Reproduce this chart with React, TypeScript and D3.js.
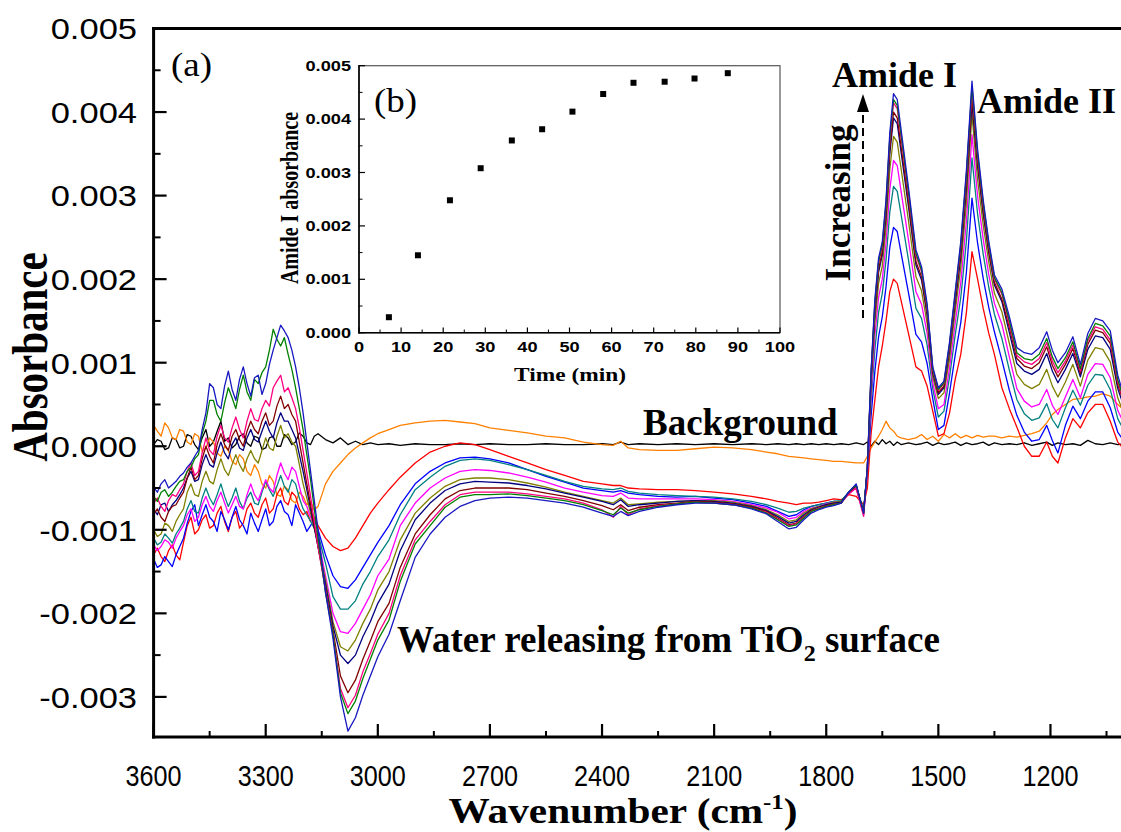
import React from "react";
import * as d3 from "d3";

// ---------- main spectra (absorbance values in units of 1e-3) ----------
const wavenumber = [
  3600, 3590, 3580, 3570, 3560, 3550, 3540, 3530, 3520, 3510, 3500, 3490, 3480, 3470, 3460, 3450, 3440, 3430, 3420, 3410, 3400, 3390, 3380, 3370, 3360, 3350, 3340, 3330, 3320, 3310, 3300, 3290, 3280, 3270, 3260, 3250, 3240, 3230, 3220, 3210, 3200, 3190, 3180, 3170, 3160,
  3140, 3120, 3100, 3080, 3060, 3040, 3020, 3000, 2970, 2940, 2900, 2860, 2820, 2780, 2740, 2700, 2650, 2600, 2550, 2500, 2450, 2400, 2370, 2350, 2330, 2300, 2250, 2200, 2150, 2100, 2050, 2000, 1960, 1930, 1900, 1880, 1860, 1840, 1820, 1800, 1780,
  1760, 1740, 1720, 1700, 1690, 1680, 1670, 1660, 1650, 1640, 1630, 1620, 1610, 1600, 1580, 1560, 1545, 1530, 1515, 1500, 1485, 1470, 1455, 1440, 1425, 1410, 1395, 1380, 1365, 1350, 1330, 1310, 1290, 1270, 1250, 1230, 1210, 1195, 1180, 1160, 1140, 1120, 1100, 1080, 1060, 1040, 1020, 1000,
];

const spec01Red = [
  -1.3, -1.22, -1.32, -1.38, -1.25, -1.18, -1.3, -1.36, -1.15, -0.95, -0.85, -1.05, -1.0, -0.88, -0.82, -0.98, -0.95, -0.8, -0.72, -0.9, -1.02, -0.85, -0.78, -0.98, -0.92, -0.75, -0.68, -0.8, -0.85, -0.7, -0.62, -0.8, -0.75, -0.58, -0.5, -0.66, -0.7, -0.55, -0.6, -0.75, -0.82, -0.78, -0.9, -0.85, -0.95,
  -1.1, -1.2, -1.25, -1.22, -1.1, -0.95, -0.8, -0.68, -0.52, -0.37, -0.2, -0.07, 0.0, 0.04, 0.02, -0.04, -0.12, -0.2, -0.28, -0.35, -0.42, -0.45, -0.47, -0.47, -0.5, -0.51, -0.52, -0.52, -0.53, -0.55, -0.57, -0.6, -0.63, -0.66, -0.68, -0.7, -0.68, -0.68, -0.67, -0.65, -0.63,
  -0.64, -0.58, -0.6, -0.7, -0.5, 0.15, 0.55, 0.95, 1.2, 1.5, 1.85, 2.0, 1.95, 1.75, 1.35, 0.95, 0.9, 0.72, 0.42, 0.12, 0.15, 0.4, 0.8, 1.1, 1.6, 2.33, 2.0, 1.65, 1.35, 1.1, 0.7, 0.45, 0.23, 0.0, -0.12, -0.12, 0.05, -0.12, -0.2, 0.1, 0.33, 0.22, 0.4, 0.5, 0.5, 0.3, 0.05, -0.05,
];
const spec02Blue = [
  -1.35, -1.45, -1.42, -1.32, -1.38, -1.44, -1.3, -1.2, -1.1, -0.92, -0.78, -0.7, -0.95, -0.82, -0.7, -0.85, -0.9, -1.02, -0.78, -0.88, -1.0, -0.85, -0.72, -0.88, -0.95, -1.05, -0.8, -0.92, -1.02, -0.88, -0.75, -0.95, -0.9, -0.72, -0.65, -0.78, -0.82, -0.95, -0.7, -0.8, -0.9, -1.02, -0.95, -0.88, -1.0,
  -1.3, -1.55, -1.68, -1.7, -1.6, -1.45, -1.3, -1.15, -0.95, -0.7, -0.45, -0.3, -0.2, -0.14, -0.13, -0.15, -0.2, -0.28, -0.36, -0.43, -0.5, -0.53, -0.55, -0.53, -0.56, -0.58, -0.6, -0.61, -0.6, -0.62, -0.64, -0.68, -0.72, -0.78, -0.84, -0.82, -0.76, -0.72, -0.7, -0.68, -0.66,
  -0.66, -0.55, -0.5, -0.78, -0.3, 0.36, 0.89, 1.31, 1.55, 1.91, 2.38, 2.62, 2.57, 2.32, 1.84, 1.34, 1.25, 0.99, 0.57, 0.2, 0.25, 0.64, 1.09, 1.48, 2.08, 2.97, 2.43, 2.01, 1.66, 1.37, 1.03, 0.67, 0.37, 0.17, 0.06, 0.08, 0.25, 0.07, -0.08, 0.25, 0.48, 0.33, 0.54, 0.65, 0.65, 0.46, 0.17, 0.04,
];
const spec03Teal = [
  -1.1, -1.18, -1.15, -1.05, -1.1, -1.16, -1.05, -0.98, -0.9, -0.75, -0.65, -0.78, -0.8, -0.62, -0.5, -0.62, -0.7, -0.58, -0.45, -0.6, -0.72, -0.62, -0.5, -0.66, -0.75, -0.62, -0.55, -0.68, -0.7, -0.55, -0.42, -0.52, -0.6, -0.48, -0.35, -0.48, -0.55, -0.4, -0.45, -0.62, -0.75, -0.82, -0.9, -0.98, -1.05,
  -1.4, -1.8, -1.95, -1.95, -1.85, -1.65, -1.5, -1.32, -1.12, -0.82, -0.52, -0.37, -0.24, -0.17, -0.15, -0.17, -0.22, -0.28, -0.35, -0.42, -0.48, -0.51, -0.52, -0.5, -0.54, -0.56, -0.58, -0.59, -0.6, -0.61, -0.63, -0.66, -0.7, -0.74, -0.79, -0.78, -0.74, -0.72, -0.7, -0.68, -0.66,
  -0.65, -0.56, -0.48, -0.76, -0.28, 0.53, 1.15, 1.6, 1.83, 2.23, 2.8, 3.11, 3.05, 2.78, 2.23, 1.65, 1.53, 1.21, 0.69, 0.35, 0.42, 0.83, 1.33, 1.78, 2.45, 3.45, 2.78, 2.3, 1.9, 1.58, 1.29, 0.91, 0.56, 0.39, 0.31, 0.34, 0.51, 0.32, 0.22, 0.46, 0.67, 0.49, 0.73, 0.86, 0.85, 0.68, 0.33, 0.16,
];
const spec04Magenta = [
  -1.18, -1.25, -1.2, -1.12, -1.15, -1.22, -1.1, -1.02, -0.95, -0.82, -0.75, -0.9, -0.85, -0.7, -0.6, -0.72, -0.78, -0.65, -0.55, -0.68, -0.8, -0.7, -0.6, -0.72, -0.75, -0.58, -0.45, -0.58, -0.65, -0.52, -0.4, -0.5, -0.55, -0.35, -0.2, -0.32, -0.4, -0.25, -0.3, -0.48, -0.65, -0.72, -0.85, -0.95, -1.1,
  -1.55, -2.0, -2.22, -2.24, -2.12, -1.95, -1.78, -1.55, -1.35, -0.95, -0.68, -0.5, -0.38, -0.3, -0.28, -0.29, -0.32, -0.37, -0.43, -0.5, -0.55, -0.59, -0.6, -0.56, -0.62, -0.63, -0.63, -0.63, -0.63, -0.64, -0.66, -0.7, -0.74, -0.79, -0.87, -0.85, -0.78, -0.74, -0.72, -0.69, -0.67,
  -0.67, -0.57, -0.5, -0.82, -0.3, 0.63, 1.32, 1.78, 2.0, 2.43, 3.07, 3.42, 3.36, 3.06, 2.47, 1.85, 1.7, 1.35, 0.76, 0.45, 0.5, 0.94, 1.47, 1.96, 2.69, 3.73, 2.99, 2.48, 2.05, 1.71, 1.46, 1.07, 0.69, 0.54, 0.47, 0.5, 0.68, 0.49, 0.38, 0.59, 0.8, 0.58, 0.86, 0.99, 0.98, 0.82, 0.43, 0.24,
];
const spec05Olive = [
  -1.0, -1.08, -1.05, -0.92, -0.95, -1.02, -0.9, -0.82, -0.75, -0.55, -0.45, -0.58, -0.6, -0.42, -0.3, -0.42, -0.45, -0.28, -0.15, -0.28, -0.35, -0.22, -0.1, -0.22, -0.3, -0.15, -0.05, -0.15, -0.2, -0.05, 0.1, -0.02, -0.05, 0.12, 0.25, 0.1, 0.15, 0.05, 0.0, -0.22, -0.45, -0.62, -0.8, -0.98, -1.15,
  -1.6, -2.1, -2.4, -2.45, -2.32, -2.12, -1.95, -1.72, -1.5, -1.12, -0.8, -0.62, -0.48, -0.4, -0.38, -0.38, -0.4, -0.44, -0.49, -0.55, -0.6, -0.65, -0.68, -0.62, -0.7, -0.69, -0.67, -0.66, -0.65, -0.65, -0.67, -0.71, -0.76, -0.82, -0.9, -0.88, -0.8, -0.75, -0.72, -0.7, -0.67,
  -0.66, -0.56, -0.47, -0.79, -0.27, 0.73, 1.47, 1.95, 2.16, 2.62, 3.31, 3.71, 3.64, 3.33, 2.7, 2.03, 1.86, 1.47, 0.83, 0.57, 0.64, 1.05, 1.61, 2.14, 2.91, 3.97, 3.19, 2.65, 2.2, 1.83, 1.61, 1.23, 0.86, 0.74, 0.69, 0.74, 0.92, 0.72, 0.59, 0.77, 0.98, 0.72, 1.03, 1.18, 1.16, 1.01, 0.58, 0.35,
];
const spec06Navy = [
  -0.75, -0.82, -0.7, -0.68, -0.78, -0.7, -0.65, -0.58, -0.5, -0.38, -0.3, -0.42, -0.4, -0.22, -0.1, -0.22, -0.25, -0.08, 0.05, -0.08, -0.15, 0.02, 0.1, -0.02, -0.05, 0.1, 0.2, 0.08, 0.05, 0.18, 0.3, 0.18, 0.1, 0.28, 0.4, 0.3, 0.3, 0.2, 0.1, -0.1, -0.3, -0.52, -0.75, -0.98, -1.2,
  -1.65, -2.15, -2.5, -2.6, -2.5, -2.28, -2.1, -1.88, -1.65, -1.25, -0.88, -0.68, -0.53, -0.45, -0.42, -0.43, -0.44, -0.47, -0.51, -0.56, -0.61, -0.66, -0.7, -0.64, -0.72, -0.7, -0.68, -0.66, -0.65, -0.66, -0.68, -0.72, -0.77, -0.84, -0.92, -0.9, -0.82, -0.76, -0.73, -0.7, -0.68,
  -0.67, -0.55, -0.46, -0.8, -0.26, 0.8, 1.59, 2.08, 2.29, 2.76, 3.5, 3.93, 3.86, 3.53, 2.87, 2.17, 1.99, 1.57, 0.88, 0.62, 0.7, 1.14, 1.71, 2.27, 3.08, 4.1, 3.35, 2.78, 2.31, 1.93, 1.73, 1.36, 0.99, 0.9, 0.86, 0.92, 1.11, 0.9, 0.76, 0.92, 1.11, 0.83, 1.16, 1.32, 1.3, 1.16, 0.69, 0.43,
];
const spec07Wine = [
  -0.82, -0.75, -0.85, -0.9, -0.78, -0.72, -0.7, -0.62, -0.55, -0.38, -0.25, -0.4, -0.35, -0.15, 0.0, -0.12, -0.2, 0.02, 0.15, 0.02, -0.05, 0.12, 0.2, 0.08, 0.0, 0.18, 0.3, 0.2, 0.15, 0.3, 0.4, 0.25, 0.3, 0.48, 0.6, 0.45, 0.5, 0.38, 0.3, 0.05, -0.2, -0.45, -0.7, -0.95, -1.2,
  -1.7, -2.2, -2.75, -2.95, -2.8, -2.55, -2.33, -2.1, -1.88, -1.45, -1.05, -0.82, -0.63, -0.53, -0.5, -0.5, -0.5, -0.52, -0.56, -0.6, -0.65, -0.71, -0.76, -0.7, -0.77, -0.73, -0.7, -0.68, -0.66, -0.67, -0.69, -0.73, -0.78, -0.86, -0.94, -0.92, -0.84, -0.77, -0.74, -0.71, -0.69,
  -0.68, -0.56, -0.47, -0.8, -0.26, 0.83, 1.63, 2.12, 2.33, 2.81, 3.56, 4.0, 3.93, 3.6, 2.93, 2.21, 2.03, 1.6, 0.9, 0.64, 0.72, 1.17, 1.75, 2.32, 3.13, 4.17, 3.4, 2.82, 2.34, 1.96, 1.76, 1.42, 1.05, 0.96, 0.93, 1.0, 1.19, 0.97, 0.83, 0.98, 1.17, 0.87, 1.22, 1.39, 1.36, 1.23, 0.74, 0.47,
];
const spec08Pink = [
  -0.68, -0.62, -0.72, -0.78, -0.65, -0.58, -0.6, -0.52, -0.45, -0.3, -0.2, -0.35, -0.3, -0.08, 0.1, -0.05, -0.1, 0.12, 0.25, 0.1, 0.05, 0.22, 0.35, 0.2, 0.1, 0.3, 0.45, 0.32, 0.3, 0.45, 0.55, 0.48, 0.7, 0.78, 0.85, 0.65, 0.7, 0.58, 0.45, 0.22, -0.05, -0.32, -0.6, -0.9, -1.2,
  -1.72, -2.25, -2.9, -3.13, -2.98, -2.7, -2.48, -2.25, -2.0, -1.55, -1.12, -0.9, -0.7, -0.58, -0.55, -0.55, -0.55, -0.57, -0.6, -0.63, -0.68, -0.76, -0.85, -0.72, -0.82, -0.75, -0.71, -0.69, -0.67, -0.68, -0.7, -0.74, -0.79, -0.87, -0.95, -0.93, -0.85, -0.78, -0.74, -0.72, -0.7,
  -0.68, -0.57, -0.5, -0.84, -0.27, 0.86, 1.69, 2.19, 2.39, 2.88, 3.66, 4.11, 4.04, 3.7, 3.01, 2.28, 2.09, 1.65, 0.92, 0.67, 0.75, 1.21, 1.8, 2.38, 3.22, 4.27, 3.47, 2.89, 2.4, 2.0, 1.82, 1.46, 1.09, 1.01, 0.98, 1.05, 1.24, 1.02, 0.88, 1.02, 1.21, 0.9, 1.26, 1.43, 1.4, 1.27, 0.77, 0.49,
];
const spec09Green = [
  -0.6, -0.66, -0.55, -0.52, -0.6, -0.55, -0.48, -0.42, -0.4, -0.3, -0.25, -0.15, -0.1, 0.15, 0.3, 0.55, 0.55, 0.38, 0.3, 0.52, 0.7, 0.58, 0.45, 0.68, 0.85, 0.65, 0.55, 0.8, 0.75, 0.88, 0.95, 1.15, 1.4, 1.28, 1.2, 1.3, 1.1, 0.92, 0.7, 0.45, 0.2, -0.1, -0.4, -0.75, -1.1,
  -1.75, -2.25, -2.95, -3.2, -3.05, -2.78, -2.55, -2.32, -2.08, -1.62, -1.17, -0.95, -0.73, -0.61, -0.58, -0.58, -0.57, -0.59, -0.62, -0.65, -0.7, -0.77, -0.82, -0.74, -0.8, -0.76, -0.72, -0.69, -0.67, -0.68, -0.7, -0.74, -0.8, -0.88, -0.96, -0.94, -0.86, -0.78, -0.75, -0.72, -0.7,
  -0.68, -0.55, -0.46, -0.8, -0.25, 0.88, 1.71, 2.21, 2.41, 2.91, 3.69, 4.15, 4.08, 3.74, 3.05, 2.31, 2.11, 1.67, 0.93, 0.68, 0.76, 1.22, 1.82, 2.41, 3.25, 4.31, 3.5, 2.91, 2.42, 2.02, 1.84, 1.5, 1.12, 1.05, 1.03, 1.1, 1.29, 1.07, 0.93, 1.06, 1.25, 0.93, 1.29, 1.47, 1.44, 1.32, 0.8, 0.51,
];
const spec10Royal = [
  -0.49, -0.55, -0.45, -0.4, -0.5, -0.46, -0.42, -0.36, -0.32, -0.25, -0.2, -0.12, -0.05, 0.2, 0.4, 0.75, 0.7, 0.5, 0.45, 0.72, 0.9, 0.68, 0.55, 0.8, 0.95, 0.75, 0.6, 0.82, 0.85, 0.62, 0.75, 0.98, 1.15, 1.3, 1.45, 1.38, 1.3, 1.15, 0.95, 0.7, 0.4, 0.05, -0.3, -0.65, -1.0,
  -1.75, -2.3, -3.0, -3.41, -3.25, -2.98, -2.75, -2.52, -2.25, -1.85, -1.33, -1.05, -0.85, -0.72, -0.65, -0.62, -0.61, -0.62, -0.65, -0.68, -0.73, -0.8, -0.84, -0.78, -0.83, -0.78, -0.73, -0.7, -0.68, -0.68, -0.7, -0.75, -0.81, -0.9, -0.99, -0.97, -0.88, -0.8, -0.76, -0.73, -0.71,
  -0.68, -0.55, -0.45, -0.8, -0.25, 0.9, 1.75, 2.25, 2.45, 2.95, 3.75, 4.22, 4.15, 3.8, 3.1, 2.35, 2.15, 1.7, 0.95, 0.7, 0.78, 1.25, 1.85, 2.45, 3.3, 4.37, 3.55, 2.95, 2.45, 2.05, 1.88, 1.55, 1.18, 1.12, 1.1, 1.18, 1.37, 1.15, 1.0, 1.12, 1.31, 0.98, 1.35, 1.53, 1.5, 1.38, 0.85, 0.55,
];
const specOrange = [
  0.25, 0.18, 0.12, 0.28, 0.22, 0.1, 0.08, 0.2, 0.18, 0.05, 0.02, 0.15, 0.12, -0.06, -0.02, 0.1, 0.05, -0.08, -0.12, 0.0, -0.05, -0.18, -0.22, -0.1, -0.15, -0.3, -0.35, -0.22, -0.3, -0.45, -0.5, -0.35, -0.42, -0.58, -0.6, -0.48, -0.52, -0.65, -0.68, -0.55, -0.6, -0.7, -0.66, -0.76, -0.72,
  -0.45, -0.3, -0.2, -0.1, -0.02, 0.04, 0.1, 0.15, 0.2, 0.25, 0.28, 0.3, 0.31, 0.29, 0.27, 0.22, 0.19, 0.16, 0.12, 0.1, 0.05, 0.02, 0.01, 0.06, -0.02, -0.04, -0.05, -0.05, -0.03, -0.01, -0.02, -0.04, -0.07, -0.09, -0.12, -0.13, -0.14, -0.15, -0.16, -0.17, -0.18,
  -0.18, -0.19, -0.2, -0.2, -0.12, -0.02, 0.05, 0.12, 0.2, 0.3, 0.22, 0.18, 0.12, 0.1, 0.08, 0.1, 0.14, 0.08, 0.12, 0.06, 0.14, 0.1, 0.15, 0.1, 0.13, 0.1, 0.13, 0.11, 0.12, 0.12, 0.1, 0.12, 0.11, 0.13, 0.15, 0.18, 0.28, 0.38, 0.44, 0.5, 0.56, 0.57, 0.59, 0.6, 0.63, 0.6, 0.5, 0.42,
];
const specBackground = [
  0.02, 0.08, 0.06, -0.04, -0.02, 0.1, 0.08, -0.02, 0.0, 0.14, 0.12, 0.02, -0.04, 0.1, 0.2, 0.0, 0.05, 0.18, 0.3, 0.06, 0.1, -0.02, 0.02, 0.12, 0.15, 0.04, 0.0, 0.12, 0.1, -0.04, -0.02, 0.1, 0.12, 0.0, 0.0, 0.14, 0.1, 0.02, 0.05, 0.16, 0.12, 0.04, 0.02, 0.12, 0.15,
  0.08, 0.04, 0.1, 0.02, 0.06, 0.02, 0.04, 0.02, 0.03, 0.01, 0.03, 0.02, 0.02, 0.03, 0.02, 0.03, 0.02, 0.02, 0.03, 0.02, 0.02, 0.03, 0.02, 0.05, 0.02, 0.03, 0.02, 0.03, 0.02, 0.03, 0.02, 0.03, 0.02, 0.03, 0.02, 0.03, 0.02, 0.03, 0.02, 0.03, 0.02,
  0.03, 0.02, 0.04, 0.02, 0.05, 0.0, 0.06, 0.02, 0.08, 0.03, 0.06, 0.01, 0.05, 0.02, 0.04, 0.02, 0.03, 0.05, 0.01, 0.04, 0.02, 0.03, 0.05, 0.01, 0.04, 0.02, 0.03, 0.05, 0.01, 0.04, 0.02, 0.03, 0.02, 0.04, 0.01, 0.03, 0.05, 0.01, 0.04, 0.02, 0.03, 0.01, 0.07, 0.03, 0.02, 0.04, 0.02, 0.03,
];

const xMajorTicks = [3600, 3300, 3000, 2700, 2400, 2100, 1800, 1500, 1200];
const xMinorTicks = [3450, 3150, 2850, 2550, 2250, 1950, 1650, 1350, 1050];
const yMajorTicks = [-3, -2, -1, 0, 1, 2, 3, 4, 5];
const yMinorTicks = [-2.5, -1.5, -0.5, 0.5, 1.5, 2.5, 3.5, 4.5];

// ---------- inset (b) ----------
const insetTime = [7.1, 14.0, 21.6, 28.9, 36.3, 43.5, 50.7, 58.0, 65.2, 72.6, 79.7, 87.6];
const insetAmideI = [0.00029, 0.00145, 0.00248, 0.00308, 0.0036, 0.00381, 0.00414, 0.00447, 0.00468, 0.0047, 0.00476, 0.00486];
const insetXTicks = [0, 10, 20, 30, 40, 50, 60, 70, 80, 90, 100];
const insetXMinor = [5, 15, 25, 35, 45, 55, 65, 75, 85, 95];
const insetYTicks = [0, 0.001, 0.002, 0.003, 0.004, 0.005];
const insetYMinor = [0.0005, 0.0015, 0.0025, 0.0035, 0.0045];

const SANS = "'Liberation Sans', Arial, sans-serif";
const SERIF = "'Liberation Serif', 'Times New Roman', serif";

const fmt = (v: number) => (v < 0 ? "-" : "") + Math.abs(v).toFixed(3);

export default function App() {
  const W = 1121;
  const H = 832;
  const left = 153.6;
  const top = 28.5;
  const bottom = 737;

  const x = d3.scaleLinear().domain([3600, 1000]).range([left, 1125.2]);
  const y = d3.scaleLinear().domain([-3.48, 5]).range([bottom, top]);

  const curves = [
    { v: specBackground, c: "#000000" },
    { v: specOrange, c: "#FF8000" },
    { v: spec01Red, c: "#FF0000" },
    { v: spec02Blue, c: "#0000FF" },
    { v: spec03Teal, c: "#008080" },
    { v: spec04Magenta, c: "#FF00FF" },
    { v: spec05Olive, c: "#808000" },
    { v: spec06Navy, c: "#000080" },
    { v: spec07Wine, c: "#800000" },
    { v: spec08Pink, c: "#FF0080" },
    { v: spec09Green, c: "#008000" },
    { v: spec10Royal, c: "#1818C0" },
  ];

  const n = wavenumber.length;
  const line = d3
    .line<number>()
    .defined((d) => d !== undefined && d !== null && !isNaN(d))
    .x((_, i) => x(wavenumber[i]))
    .y((d) => y(d));

  const ix = d3.scaleLinear().domain([0, 100]).range([359, 780]);
  const iy = d3.scaleLinear().domain([0, 0.005]).range([332.7, 65.7]);

  return (
    <svg
      width={W}
      height={H}
      viewBox={`0 0 ${W} ${H}`}
      style={{ position: "absolute", left: 0, top: 0, background: "#fff" }}
    >
      <defs>
        <clipPath id="plotClip">
          <rect x={left} y={top} width={W - left} height={bottom - top} />
        </clipPath>
      </defs>
      <rect x={0} y={0} width={W} height={H} fill="#fff" />

      {/* spectra */}
      <g clipPath="url(#plotClip)">
        {curves.map((cv, k) => (
          <path
            key={k}
            d={line(cv.v.slice(0, n)) || ""}
            fill="none"
            stroke={cv.c}
            strokeWidth={1.3}
            strokeLinejoin="round"
          />
        ))}
      </g>

      {/* axes frame */}
      <line x1={left} y1={top - 1.5} x2={left} y2={bottom + 1.5} stroke="#000" strokeWidth={3} />
      <line x1={left - 1.5} y1={bottom} x2={W} y2={bottom} stroke="#000" strokeWidth={3} />
      <line x1={left - 1.5} y1={top} x2={W} y2={top} stroke="#000" strokeWidth={3} />

      {/* y ticks */}
      {yMajorTicks.map((t) => (
        <g key={"ym" + t}>
          <line x1={left} x2={left + 13} y1={y(t)} y2={y(t)} stroke="#000" strokeWidth={2.2} />
          <text
            transform={`translate(137, ${y(t)}) scale(1.15,1)`}
            textAnchor="end"
            dy="0.36em"
            fontFamily={SANS}
            fontSize={30}
            fill="#000"
          >
            {fmt(t / 1000)}
          </text>
        </g>
      ))}
      {yMinorTicks.map((t) => (
        <line key={"yn" + t} x1={left} x2={left + 7} y1={y(t)} y2={y(t)} stroke="#000" strokeWidth={2} />
      ))}

      {/* x ticks */}
      {xMajorTicks.map((t) => (
        <g key={"xm" + t}>
          <line x1={x(t)} x2={x(t)} y1={bottom} y2={bottom - 13} stroke="#000" strokeWidth={2.2} />
          <text
            transform={`translate(${x(t)}, 786) scale(0.84,1)`}
            textAnchor="middle"
            fontFamily={SANS}
            fontSize={30}
            fill="#000"
          >
            {t}
          </text>
        </g>
      ))}
      {xMinorTicks.map((t) => (
        <line key={"xn" + t} x1={x(t)} x2={x(t)} y1={bottom} y2={bottom - 6} stroke="#000" strokeWidth={2} />
      ))}

      {/* axis titles */}
      <text
        transform="translate(47, 357) scale(1.25,1) rotate(-90)"
        textAnchor="middle"
        fontFamily={SERIF}
        fontWeight="bold"
        fontSize={41}
      >
        Absorbance
      </text>
      <text
        transform="translate(623, 823) scale(1.18,1)"
        textAnchor="middle"
        fontFamily={SERIF}
        fontWeight="bold"
        fontSize={35}
      >
        Wavenumber (cm
        <tspan fontSize={21} dy={-14}>-1</tspan>
        <tspan dy={14}>)</tspan>
      </text>

      {/* panel label */}
      <text transform="translate(171, 76) scale(1.12,1)" fontFamily={SERIF} fontSize={33}>
        (a)
      </text>

      {/* annotations */}
      <text x={832} y={87} fontFamily={SERIF} fontWeight="bold" fontSize={36}>
        Amide I
      </text>
      <text x={977} y={113} fontFamily={SERIF} fontWeight="bold" fontSize={36}>
        Amide II
      </text>
      <text
        transform="translate(850, 203) rotate(-90)"
        textAnchor="middle"
        fontFamily={SERIF}
        fontWeight="bold"
        fontSize={35}
      >
        Increasing
      </text>
      <line x1={863} y1={318} x2={863} y2={110} stroke="#000" strokeWidth={2} strokeDasharray="8,5" />
      <polygon points="863,94 857,112 869,112" fill="#000" />
      <text x={643} y={435} fontFamily={SERIF} fontWeight="bold" fontSize={37}>
        Background
      </text>
      <text x={397} y={652} fontFamily={SERIF} fontWeight="bold" fontSize={37}>
        Water releasing from TiO
        <tspan fontSize={24} dy={9}>2</tspan>
        <tspan dy={-9}> surface</tspan>
      </text>

      {/* inset (b) */}
      <g>
        <rect x={359} y={65.7} width={421} height={267} fill="none" stroke="#555" strokeWidth={1.2} />
        <line x1={359} y1={65} x2={359} y2={333.5} stroke="#000" strokeWidth={1.6} />
        <line x1={358.2} y1={332.7} x2={780} y2={332.7} stroke="#000" strokeWidth={1.6} />
        {insetYTicks.map((t) => (
          <g key={"iy" + t}>
            <line x1={359} x2={365} y1={iy(t)} y2={iy(t)} stroke="#000" strokeWidth={1.2} />
            <text
              transform={`translate(351, ${iy(t)}) scale(1.3,1)`}
              textAnchor="end"
              dy="0.36em"
              fontFamily={SANS}
              fontWeight="bold"
              fontSize={14}
            >
              {t.toFixed(3)}
            </text>
          </g>
        ))}
        {insetYMinor.map((t) => (
          <line key={"iyn" + t} x1={359} x2={362.5} y1={iy(t)} y2={iy(t)} stroke="#000" strokeWidth={1} />
        ))}
        {insetXTicks.map((t) => (
          <g key={"ix" + t}>
            <line x1={ix(t)} x2={ix(t)} y1={332.7} y2={327.5} stroke="#000" strokeWidth={1.2} />
            <text
              transform={`translate(${ix(t)}, 352) scale(1.3,1)`}
              textAnchor="middle"
              fontFamily={SANS}
              fontWeight="bold"
              fontSize={14}
            >
              {t}
            </text>
          </g>
        ))}
        {insetXMinor.map((t) => (
          <line key={"ixn" + t} x1={ix(t)} x2={ix(t)} y1={332.7} y2={329.5} stroke="#000" strokeWidth={1} />
        ))}
        {insetTime.map((t, i) => (
          <rect key={"pt" + i} x={ix(t) - 3} y={iy(insetAmideI[i]) - 3} width={6} height={6} fill="#000" />
        ))}
        <text
          transform="translate(570, 381) scale(1.3,1)"
          textAnchor="middle"
          fontFamily={SERIF}
          fontWeight="bold"
          fontSize={18}
        >
          Time (min)
        </text>
        <text
          transform="translate(298, 198) scale(1.3,1) rotate(-90)"
          textAnchor="middle"
          fontFamily={SERIF}
          fontWeight="bold"
          fontSize={20}
        >
          Amide I absorbance
        </text>
        <text transform="translate(374, 112) scale(1.12,1)" fontFamily={SERIF} fontSize={33}>
          (b)
        </text>
      </g>
    </svg>
  );
}
